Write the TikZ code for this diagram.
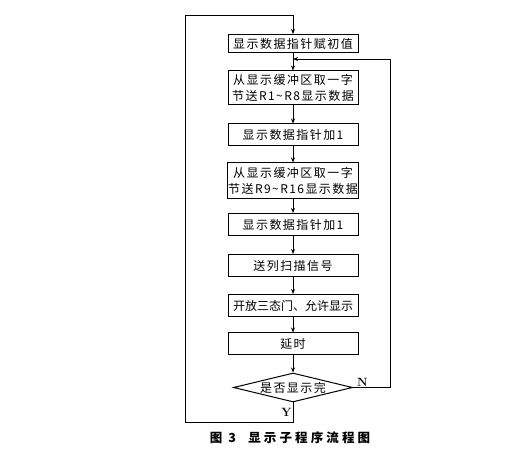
\documentclass[tikz,border=0pt]{standalone}
\usepackage{fontspec}
\usepackage{tikz}
\usetikzlibrary{shapes.geometric,arrows.meta}
\newfontfamily\cjk[LetterSpace=12]{Noto Sans CJK SC}
\newfontfamily\cjkn{Noto Sans CJK SC}
\newfontfamily\cjkcap[LetterSpace=25]{Noto Sans CJK SC}

\tikzset{
  proc/.style={draw,line width=1pt,minimum width=130pt,minimum height=22pt,inner sep=1pt,
    align=center,font=\cjk\fontsize{12}{15.5}\selectfont},
  decide/.style={draw,diamond,aspect=4,line width=1pt,minimum width=119pt,minimum height=29pt,
    inner sep=0pt,font=\cjk\fontsize{12}{14}\selectfont},
  flow/.style={line width=0.9pt,-{Stealth[length=5pt,width=4pt]}},
  yn/.style={font=\bfseries\fontsize{12}{12}\selectfont,inner sep=1pt}
}

\begin{document}
\begin{tikzpicture}[x=1pt,y=1pt]
      \useasboundingbox (0,0) rectangle (516,452);

      \node[proc,minimum height=18pt] (init) at (293,408.5) {显示数据指针赋初值};
      \node[proc,minimum height=34pt] (getA) at (293,364) {从显示缓冲区取一字\\节送R1\textasciitilde R8显示数据};
      \node[proc] (incA) at (293,317) {显示数据指针加1};
      \node[proc,minimum height=36pt] (getB) at (293,271) {从显示缓冲区取一字\\节送R9\textasciitilde R16显示数据};
      \node[proc] (incB) at (293,227.5) {显示数据指针加1};
      \node[proc] (scan) at (293,186.5) {送列扫描信号};
      \node[proc,font=\cjkn\fontsize{12}{15.5}\selectfont] (gate) at (293,146.5) {开放三态门、允许显示};
      \node[proc] (wait) at (293,108) {延时};
      \node[decide] (done) at (293,64.5) {是否显示完};

      \coordinate (back) at (293,393);
      \coordinate (lowL) at (185,30);
      \coordinate (topL) at (185,437);

      \draw[flow] (init) -- (getA);
      \draw[flow] (getA) -- (incA);
      \draw[flow] (incA) -- (getB);
      \draw[flow] (getB) -- (incB);
      \draw[flow] (incB) -- (scan);
      \draw[flow] (scan) -- (gate);
      \draw[flow] (gate) -- (wait);
      \draw[flow] (wait) -- (done);

      \draw[flow] (done.east) -- node[yn,pos=0.25,above] {N} ++(37.5,0) |- (back);
      \draw[flow] (done.south) |- node[yn,pos=0.25,left] {Y} (lowL) -- (topL) -| (init.north);

      \node[font=\cjkcap\bfseries\fontsize{12.5}{14}\selectfont] (cap) at (290,14) {图 3\quad 显示子程序流程图};
\end{tikzpicture}
\end{document}
